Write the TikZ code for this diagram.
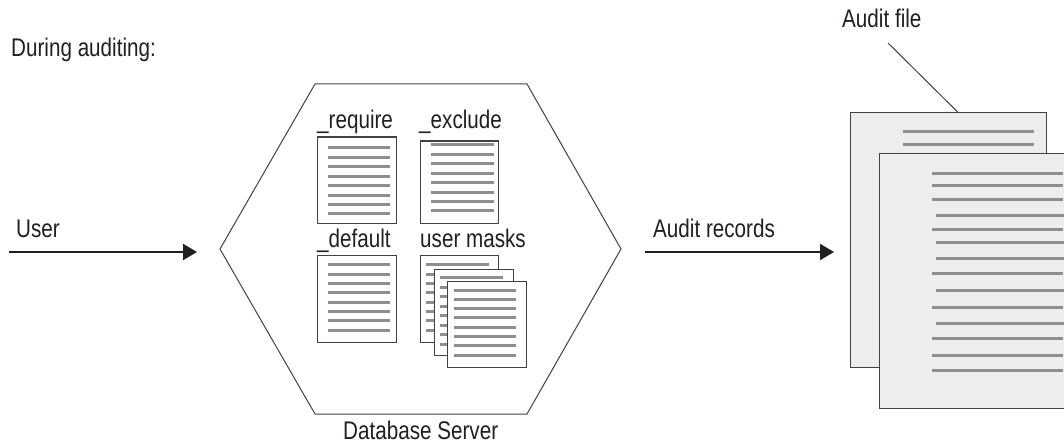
\documentclass[tikz,border=0pt]{standalone}
\usepackage{fontspec}
\setmainfont[FakeStretch=0.81]{Liberation Sans}
\usetikzlibrary{arrows.meta,calc}
\definecolor{ink}{HTML}{231F20}
\definecolor{rule}{HTML}{8E8E8E}
\definecolor{paper}{HTML}{ECEDEF}
\tikzset{
  lbl/.style={anchor=base west,inner sep=0pt,text=ink,font=\fontsize{25.5}{28}\selectfont},
  docbox/.style={draw=ink!85,line width=1.1pt,fill=white,inner sep=0pt,anchor=north west,minimum width=#1},
  txt/.style={draw=rule,line width=3pt},
  flow/.style={draw=ink,line width=2pt,-{Triangle[length=14pt,width=16pt]}},
  edge/.style={draw=ink!85,line width=1pt}
}
% name, x, y, width, height, line x1, line x2, first line y, last line y
\newcommand{\docsheet}[9]{%
  \node[docbox=#4pt,minimum height=#5pt] (#1) at (#2,#3) {};
  \pgfmathsetmacro{\stepy}{(#9-#8)/7}
  \foreach \k in {0,...,7}{\draw[txt] (#6,{#8+\k*\stepy}) -- (#7,{#8+\k*\stepy});}
}
\begin{document}
\begin{tikzpicture}[x=1pt,y=-1pt]
\useasboundingbox (0,0) rectangle (1064,443);
\fill[white] (0,0) rectangle (1064,443);
% hexagon
\coordinate (hTL) at (315,84);
\coordinate (hTR) at (527,84);
\coordinate (hR) at (621,249);
\coordinate (hBR) at (527,414);
\coordinate (hBL) at (315,414);
\coordinate (hL) at (220,249);
\draw[edge] (hTL) -- (hTR) -- (hR) -- (hBR) -- (hBL) -- (hL) -- cycle;
% labels
\node[lbl] (during) at (11,57) {During auditing:};
\node[lbl] (user) at (16,238) {User};
\node[lbl] (records) at (653,238) {Audit records};
\node[lbl] (afile) at (842,28) {Audit file};
\node[lbl] (dbs) at (343,439.5) {Database Server};
\node[lbl] (lreq) at (317,129) {\_require};
\node[lbl] (lexc) at (419,129) {\_exclude};
\node[lbl] (ldef) at (317,248) {\_default};
\node[lbl] (lusr) at (420,248) {user masks};
% small sheets
\docsheet{req}{317}{136.5}{79}{86.5}{328}{390}{148}{214}
\docsheet{exc}{419.5}{140.5}{78.5}{82.5}{431}{494}{145}{211}
\docsheet{def}{317}{255}{79}{87}{328}{390}{265}{330}
\docsheet{maska}{419.5}{255}{78.5}{87}{426}{489}{265}{330}
\docsheet{maskb}{434}{269}{78.5}{86}{440}{503}{278}{344}
\docsheet{maskc}{447}{281}{78.5}{86}{454}{516}{290}{355}
% audit file sheets
\begin{scope}
\clip (0,0) rectangle (1064,443);
\node[docbox=196pt,minimum height=255pt,fill=paper] (fback) at (850,112) {};
\foreach \y in {132,144.5}{\draw[txt] (903,\y) -- (1034,\y);}
\node[docbox=196pt,minimum height=255pt,fill=paper] (ffront) at (879,153) {};
\foreach \y in {173.3,186,200,230,274,307,338.5,355,370}{\draw[txt] (932,\y) -- (1063,\y);}
\foreach \y in {216,243,259,290,323}{\draw[txt] (936,\y) -- (1064,\y);}
\end{scope}
% leader
\coordinate (leadstart) at (888,43);
\draw[edge] (leadstart) -- ($(fback.north west)!0.546!(fback.north east)$);
% flows
\coordinate (ua) at (9,252);
\coordinate (ub) at (197,252);
\coordinate (ra) at (645,252);
\coordinate (rb) at (834,252);
\draw[flow] (ua) -- (ub);
\draw[flow] (ra) -- (rb);
\end{tikzpicture}
\end{document}
